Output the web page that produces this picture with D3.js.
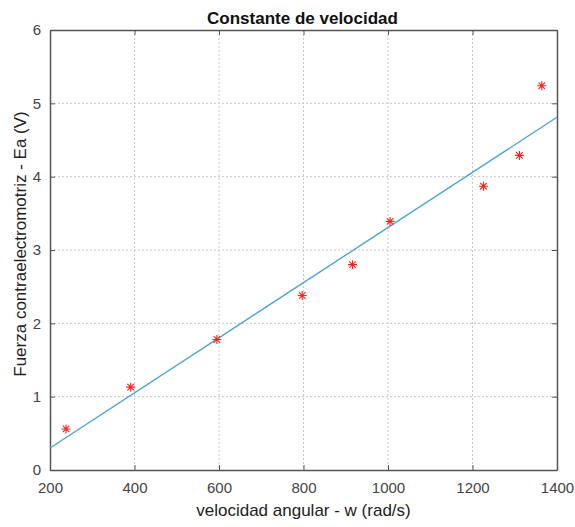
<!DOCTYPE html>
<html>
<head>
<meta charset="utf-8">
<script src="https://cdn.jsdelivr.net/npm/d3@7"></script>
<style>
  body { margin: 0; background: #fff; }
  svg { font-family: 'Liberation Sans', Arial, sans-serif; }
</style>
</head>
<body>
<svg id="chart" width="575" height="527"></svg>
<script>
// measured points (w in rad/s, Ea in V)
const velocidad = [238, 391, 595, 797, 916, 1005, 1226, 1311, 1364];
const fuerza = [0.56, 1.13, 1.78, 2.38, 2.80, 3.39, 3.87, 4.29, 5.24];

// fitted line end points
const ajusteX = [200, 1400];
const ajusteY = [0.30, 4.81];

const xTicks = [200, 400, 600, 800, 1000, 1200, 1400];
const yTicks = [0, 1, 2, 3, 4, 5, 6];

const mLeft = 50, mRight = 557, mTop = 30, mBottom = 470;

const svg = d3.select('#chart');

const x = d3.scaleLinear().domain([200, 1400]).range([mLeft, mRight]);
const y = d3.scaleLinear().domain([0, 6]).range([mBottom, mTop]);

// grid
svg.append('g')
  .selectAll('line')
  .data(xTicks.slice(1, -1))
  .join('line')
  .attr('x1', (d) => x(d)).attr('x2', (d) => x(d))
  .attr('y1', mTop).attr('y2', mBottom)
  .attr('stroke', '#c8c8c8')
  .attr('stroke-dasharray', '2,2');

svg.append('g')
  .selectAll('line')
  .data(yTicks.slice(1, -1))
  .join('line')
  .attr('y1', (d) => y(d)).attr('y2', (d) => y(d))
  .attr('x1', mLeft).attr('x2', mRight)
  .attr('stroke', '#c8c8c8')
  .attr('stroke-dasharray', '2,2');

// axes (ticks pointing inward)
const axisColor = '#555';
const fmt = d3.format('d');
const xAxis = svg.append('g')
  .attr('transform', `translate(0,${mBottom})`)
  .call(d3.axisBottom(x).tickValues(xTicks).tickFormat(fmt).tickSizeInner(-5).tickSizeOuter(0).tickPadding(12));
const yAxis = svg.append('g')
  .attr('transform', `translate(${mLeft},0)`)
  .call(d3.axisLeft(y).tickValues(yTicks).tickFormat(fmt).tickSizeInner(-5).tickSizeOuter(0).tickPadding(9));

[xAxis, yAxis].forEach((g) => {
  g.select('.domain').attr('stroke', axisColor).attr('stroke-width', 1.5);
  g.selectAll('.tick line').attr('stroke', axisColor);
  g.selectAll('.tick text')
    .attr('fill', '#444')
    .style('font-size', '15px')
    .style('font-family', "'Liberation Sans', Arial, sans-serif");
});

// top and right box edges
svg.append('g')
  .call(d3.axisTop(x).tickValues(xTicks).tickSizeInner(-5).tickSizeOuter(0).tickFormat(''))
  .attr('transform', `translate(0,${mTop})`)
  .call((g) => g.select('.domain').attr('stroke', axisColor).attr('stroke-width', 1.5))
  .call((g) => g.selectAll('.tick line').attr('stroke', axisColor));
svg.append('g')
  .call(d3.axisRight(y).tickValues(yTicks).tickSizeInner(-5).tickSizeOuter(0).tickFormat(''))
  .attr('transform', `translate(${mRight},0)`)
  .call((g) => g.select('.domain').attr('stroke', axisColor).attr('stroke-width', 1.5))
  .call((g) => g.selectAll('.tick line').attr('stroke', axisColor));

// fitted line
const ajuste = ajusteX.map((d, i) => [d, ajusteY[i]]);
svg.append('path')
  .datum(ajuste)
  .attr('fill', 'none')
  .attr('stroke', '#4da3d9')
  .attr('stroke-width', 1.4)
  .attr('d', d3.line().x((d) => x(d[0])).y((d) => y(d[1])));

// asterisk markers (+ and x)
const r = 4.5, rd = 3.3;
const star = `M${-r},0H${r}M0,${-r}V${r}M${-rd},${-rd}L${rd},${rd}M${-rd},${rd}L${rd},${-rd}`;
svg.append('g')
  .selectAll('path')
  .data(velocidad)
  .join('path')
  .attr('transform', (d, i) => `translate(${x(d)},${y(fuerza[i])})`)
  .attr('d', star)
  .attr('stroke', '#ff2020')
  .attr('stroke-width', 1.1)
  .attr('fill', 'none');

// texts
svg.append('text')
  .attr('x', (mLeft + mRight) / 2 - 1)
  .attr('y', 24)
  .attr('text-anchor', 'middle')
  .style('font-size', '17px')
  .style('font-weight', 'bold')
  .attr('fill', '#111')
  .text('Constante de velocidad');

svg.append('text')
  .attr('x', (mLeft + mRight) / 2)
  .attr('y', 516)
  .attr('text-anchor', 'middle')
  .style('font-size', '17px')
  .attr('fill', '#222')
  .text('velocidad angular - w (rad/s)');

svg.append('text')
  .attr('transform', `translate(26,${(mTop + mBottom) / 2 - 6}) rotate(-90)`)
  .attr('text-anchor', 'middle')
  .style('font-size', '17px')
  .attr('fill', '#222')
  .text('Fuerza contraelectromotriz - Ea (V)');
</script>
</body>
</html>
